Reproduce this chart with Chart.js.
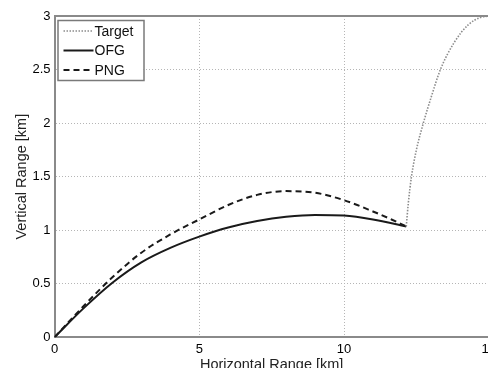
<!DOCTYPE html>
<html>
<head>
<meta charset="utf-8">
<script src="https://cdn.jsdelivr.net/npm/chart.js@4.4.1/dist/chart.umd.min.js"></script>
<style>
  html, body { margin: 0; padding: 0; background: #fff; overflow: hidden; width: 488px; height: 368px; }
  #wrap { width: 500px; height: 375px; }
</style>
</head>
<body>
<div id="wrap"><canvas id="myChart" width="500" height="375"></canvas></div>
<script>
// curve values (km)
let ofgX = [0, 1, 2, 3, 4, 5, 6, 7, 8, 9, 10, 11, 12.15];
let ofgY = [0, 0.27, 0.51, 0.70, 0.835, 0.94, 1.025, 1.085, 1.125, 1.143, 1.137, 1.10, 1.035];

let pngX = [0, 1, 2, 3, 4, 5, 6, 7, 8, 9, 10, 11, 11.64, 12.15];
let pngY = [0, 0.29, 0.56, 0.79, 0.96, 1.10, 1.235, 1.33, 1.365, 1.35, 1.28, 1.175, 1.10, 1.035];

let targetX = [12.15, 12.22, 12.33, 12.5, 12.74, 13.02, 13.33, 13.8, 14.3, 14.7, 15];
let targetY = [1.035, 1.25, 1.5, 1.75, 2.0, 2.25, 2.5, 2.75, 2.92, 2.985, 3.0];

let xTicks = [0, 5, 10, 15];
let yTicks = [0, 0.5, 1, 1.5, 2, 2.5, 3];

let fuente = "'Liberation Sans', Arial, sans-serif";

function puntos(xs, ys) {
    let res = [];
    for (let i = 0; i < xs.length; i++) {
        res.push({ x: xs[i], y: ys[i] });
    }
    return res;
}

// legend box in the upper left corner + top frame line
let marco = {
    id: "marco",
    afterDraw(chart) {
        let ctx = chart.ctx;
        let a = chart.chartArea;
        ctx.save();
        ctx.strokeStyle = "#8a8a8a";
        ctx.lineWidth = 2;
        ctx.beginPath();
        ctx.moveTo(a.left, a.top);
        ctx.lineTo(a.right, a.top);
        ctx.stroke();

        let x0 = a.left + 3, y0 = a.top + 4;
        ctx.fillStyle = "#fff";
        ctx.fillRect(x0, y0, 86, 60);
        ctx.strokeStyle = "#7a7a7a";
        ctx.lineWidth = 1.5;
        ctx.strokeRect(x0 + 0.5, y0 + 0.5, 86, 60);

        ctx.font = "14px " + fuente;
        ctx.textBaseline = "middle";
        let ds = chart.data.datasets;
        for (let i = 0; i < ds.length; i++) {
            let yy = y0 + 11 + i * 19.5;
            ctx.strokeStyle = ds[i].borderColor;
            ctx.lineWidth = ds[i].borderWidth;
            ctx.setLineDash(ds[i].borderDash || []);
            ctx.beginPath();
            ctx.moveTo(x0 + 6, yy);
            ctx.lineTo(x0 + 36, yy);
            ctx.stroke();
            ctx.setLineDash([]);
            ctx.fillStyle = "#111";
            ctx.fillText(ds[i].label, x0 + 37, yy + 1);
        }
        ctx.restore();
    }
};

let grafica = document.getElementById("myChart");

new Chart(grafica, {
    type: "scatter",
    data: {
        datasets: [
            {
                label: "Target",
                data: puntos(targetX, targetY),
                showLine: true,
                borderColor: "#8c8c8c",
                borderWidth: 1.6,
                borderDash: [1.5, 1.5],
                pointRadius: 0,
                cubicInterpolationMode: "monotone"
            },
            {
                label: "OFG",
                data: puntos(ofgX, ofgY),
                showLine: true,
                borderColor: "#1a1a1a",
                borderWidth: 2,
                pointRadius: 0,
                cubicInterpolationMode: "monotone"
            },
            {
                label: "PNG",
                data: puntos(pngX, pngY),
                showLine: true,
                borderColor: "#1a1a1a",
                borderWidth: 2,
                borderDash: [6, 4],
                pointRadius: 0,
                cubicInterpolationMode: "monotone"
            }
        ]
    },
    options: {
        responsive: false,
        maintainAspectRatio: false,
        animation: false,
        layout: { padding: { top: 16, right: 9, left: 0, bottom: 0 } },
        plugins: {
            legend: { display: false },
            tooltip: { enabled: false }
        },
        scales: {
            x: {
                type: "linear",
                min: 0,
                max: 15,
                afterBuildTicks(axis) { axis.ticks = xTicks.map(v => ({ value: v })); },
                afterFit(axis) { axis.height = 37.7; },
                grid: { color: "#b5b5b5", lineWidth: 1, drawTicks: false },
                border: { color: "#8a8a8a", width: 2, dash: [1, 2] },
                ticks: {
                    color: "#000",
                    padding: 4,
                    maxRotation: 0,
                    callback: v => String(v),
                    font: { family: fuente, size: 13 }
                },
                title: {
                    display: true,
                    text: "Horizontal Range [km]",
                    color: "#222",
                    padding: { top: 0, bottom: 1 },
                    font: { family: fuente, size: 14.5 }
                }
            },
            y: {
                type: "linear",
                min: 0,
                max: 3,
                afterBuildTicks(axis) { axis.ticks = yTicks.map(v => ({ value: v })); },
                afterFit(axis) { axis.width = 54.5; },
                grid: { color: "#b5b5b5", lineWidth: 1, drawTicks: false },
                border: { color: "#8a8a8a", width: 2, dash: [1, 2] },
                ticks: {
                    color: "#000",
                    padding: 4,
                    callback: v => String(v),
                    font: { family: fuente, size: 13 }
                },
                title: {
                    display: true,
                    text: "Vertical Range [km]",
                    color: "#222",
                    padding: { top: 13, bottom: 0 },
                    font: { family: fuente, size: 14.5 }
                }
            }
        }
    },
    plugins: [marco]
});
</script>
</body>
</html>
